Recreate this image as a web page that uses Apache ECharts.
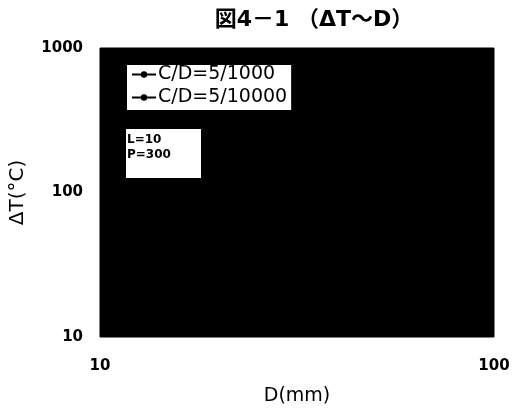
<!DOCTYPE html>
<html>
<head>
<meta charset="utf-8">
<script src="https://cdn.jsdelivr.net/npm/echarts@6/dist/echarts.min.js"></script>
<style>
  html, body { margin: 0; padding: 0; background: #fff; }
  #chart { width: 513px; height: 412px; }
</style>
</head>
<body>
<div id="chart"></div>
<script>
// Series names and their (D, ΔT) points; the plot body is printed solid black,
// so the curves themselves are drawn black on black.
const seriesNames = ['C/D=5/1000', 'C/D=5/10000'];
const series1000 = [];
const series10000 = [];
const noteLines = ['L=10', 'P=300'];

const FONT = '"DejaVu Sans", "Noto Sans CJK JP", sans-serif';
const chart = echarts.init(document.getElementById('chart'), null, { renderer: 'canvas' });

chart.setOption({
  animation: false,
  backgroundColor: '#fff',
  title: {
    text: '図4－1 （ΔT～D）',
    left: 309, top: 4, textAlign: 'center',
    textStyle: { fontFamily: FONT, fontSize: 22, fontWeight: 'bold', color: '#000' }
  },
  grid: {
    left: 100, right: 19, top: 48, bottom: 75,
    containLabel: false, outerBoundsMode: 'none',
    show: true, backgroundColor: '#000', borderColor: '#000', borderWidth: 1
  },
  legend: {
    orient: 'vertical', left: 127, top: 65,
    backgroundColor: '#fff', padding: [0, 4, 3, 4], itemGap: 4,
    itemWidth: 24, itemHeight: 8,
    textStyle: { fontFamily: FONT, fontSize: 19, color: '#000', padding: [0, 0, 0, -3] },
    data: seriesNames
  },
  xAxis: {
    type: 'log', logBase: 10, min: 10, max: 100,
    name: 'D(mm)', nameLocation: 'middle', nameGap: 50,
    nameTextStyle: { fontFamily: FONT, fontSize: 19, color: '#000' },
    axisLine: { show: false }, axisTick: { show: false },
    splitLine: { show: false },
    axisLabel: { fontFamily: FONT, fontSize: 15, fontWeight: 'bold', color: '#000', margin: 22,
      formatter: v => String(Math.round(v)) }
  },
  yAxis: {
    type: 'log', logBase: 10, min: 10, max: 1000,
    name: 'ΔT(°C)', nameLocation: 'middle', nameGap: 72,
    nameTextStyle: { fontFamily: FONT, fontSize: 20, color: '#000' },
    axisLine: { show: false }, axisTick: { show: false },
    splitLine: { show: false },
    axisLabel: { fontFamily: FONT, fontSize: 15, fontWeight: 'bold', color: '#000', margin: 17,
      formatter: v => String(Math.round(v)) }
  },
  graphic: [{
    type: 'group', left: 126, top: 129,
    children: [
      { type: 'rect', shape: { x: 0, y: 0, width: 75, height: 49 }, style: { fill: '#fff' } },
      { type: 'text', x: 1, y: 3, style: { text: noteLines.join('\n'), fontFamily: FONT, fontSize: 12, fontWeight: 'bold', lineHeight: 15, fill: '#000' } }
    ]
  }],
  series: [
    { name: seriesNames[0], type: 'line', data: series1000, symbol: 'circle', symbolSize: 4,
      itemStyle: { color: '#000' }, lineStyle: { color: '#000', width: 1 } },
    { name: seriesNames[1], type: 'line', data: series10000, symbol: 'circle', symbolSize: 6,
      itemStyle: { color: '#000' }, lineStyle: { color: '#000', width: 1.5 } }
  ]
});
</script>
</body>
</html>
